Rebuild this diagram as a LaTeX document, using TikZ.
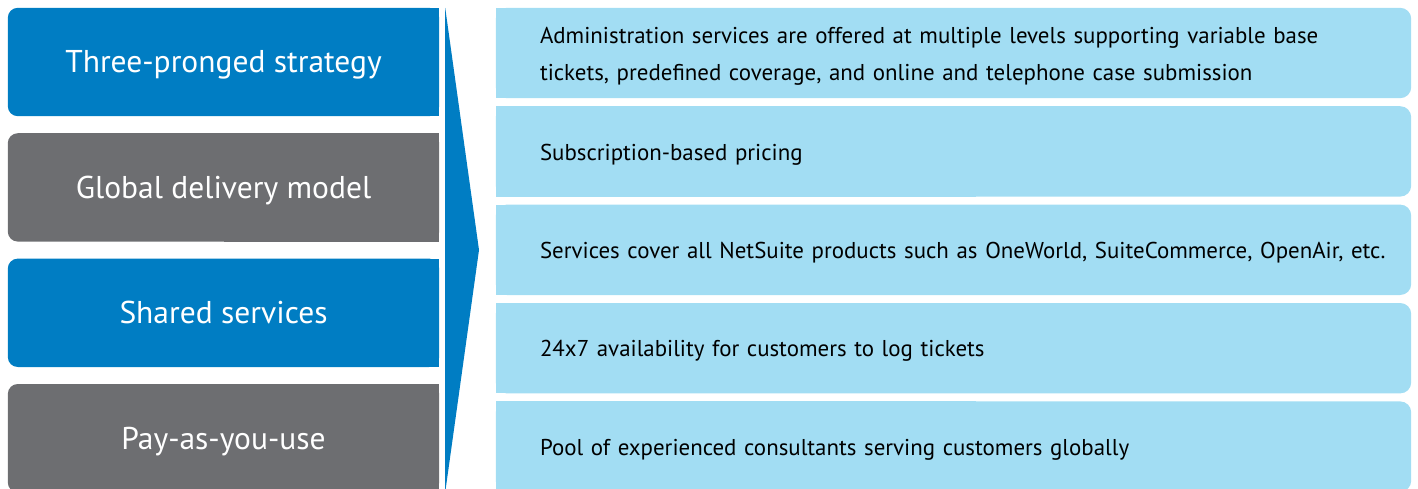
\documentclass[tikz,border=0pt]{standalone}
\usepackage{fontspec}
\setmainfont{PT Sans}
\usetikzlibrary{positioning,backgrounds}
\definecolor{stratblue}{HTML}{007DC3}
\definecolor{stratgrey}{HTML}{6D6E71}
\definecolor{pointblue}{HTML}{A2DDF3}
\begin{document}
\begin{tikzpicture}[x=1pt,y=-1pt]
    \tikzset{
      leftbox/.style={rectangle,inner sep=0pt,minimum width=431pt,minimum height=108pt,
        text height=22pt,text depth=0pt,text=white,font=\fontsize{31.5}{36}\selectfont},
      pointbox/.style={rectangle,inner sep=0pt,text width=871pt,
        minimum height=90pt,align=left,font=\fontsize{22.9}{36.7}\selectfont},
    }
    \useasboundingbox (0,0) rectangle (1418,489);

    % left column
    \node[leftbox] (s1) at (223.5,62) {Three-pronged strategy};
    \node[leftbox, below=17pt of s1] (s2) {Global delivery model};
    \node[leftbox, below=17pt of s2] (s3) {Shared services};
    \node[leftbox, below=17pt of s3] (s4) {Pay-as-you-use};

    % right column (text sits 3pt low in its box)
    \node[pointbox] (p1) at (975.5,56) {Administration services are offered at multiple levels supporting variable base\\tickets, predefined coverage, and online and telephone case submission};
    \node[pointbox, below=8pt of p1] (p2) {Subscription-based pricing};
    \node[pointbox, below=8pt of p2] (p3) {Services cover all NetSuite products such as OneWorld, SuiteCommerce, OpenAir, etc.};
    \node[pointbox, below=8pt of p3] (p4) {24x7 availability for customers to log tickets};
    \node[pointbox, below=8pt of p4] (p5) {Pool of experienced consultants serving customers globally};

    % fills: rounded on one side only
    \begin{scope}[on background layer]
    \foreach \n/\c in {s1/stratblue,s2/stratgrey,s3/stratblue,s4/stratgrey} {
      \fill[\c,rounded corners=10pt] (\n.north west) rectangle (\n.south east);
      \fill[\c] (\n.north) rectangle (\n.south east);
    }
    \foreach \n in {p1,p2,p3,p4,p5} {
      \fill[pointblue,rounded corners=11pt] ([shift={(-44pt,3pt)}]\n.north west) rectangle ([yshift=3pt]\n.south east);
      \fill[pointblue] ([shift={(-44pt,3pt)}]\n.north west) rectangle ([yshift=3pt]\n.south);
    }
    \end{scope}

    % arrow
    \coordinate (atop) at ([xshift=6pt]s1.north east);
    \coordinate (abot) at ([xshift=6pt]s4.south east);
    \coordinate (atip) at (479,250);
    \fill[stratblue] (atop) -- (atip) -- (abot) -- cycle;
\end{tikzpicture}
\end{document}
